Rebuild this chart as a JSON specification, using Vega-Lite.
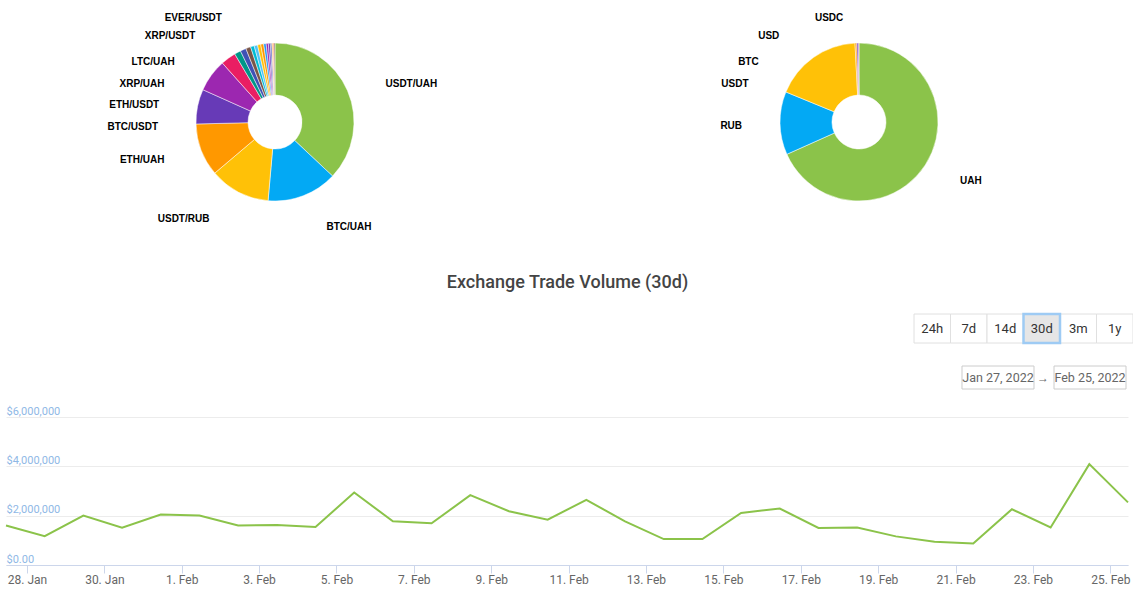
{
  "$schema": "https://vega.github.io/schema/vega-lite/v6.json",
  "background": "white",
  "padding": {"left": 2, "top": 0, "right": 0, "bottom": 0},
  "config": {
    "view": {"stroke": null},
    "font": "Roboto",
    "axis": {"labelFont": "Roboto"},
    "title": {"font": "Roboto"}
  },
  "spacing": 29,
  "vconcat": [
    {
      "bounds": "flush",
      "spacing": 45,
      "hconcat": [
        {
          "width": 538,
          "height": 244,
          "data": {
            "values": [
              {"pair": "USDT/UAH", "share": 37.0},
              {"pair": "BTC/UAH", "share": 14.4},
              {"pair": "USDT/RUB", "share": 12.4},
              {"pair": "ETH/UAH", "share": 10.8},
              {"pair": "BTC/USDT", "share": 7.1},
              {"pair": "ETH/USDT", "share": 6.7},
              {"pair": "XRP/UAH", "share": 3.1},
              {"pair": "LTC/UAH", "share": 1.3},
              {"pair": "XRP/USDT", "share": 1.2},
              {"pair": "EVER/USDT", "share": 1.0},
              {"pair": "TRX/UAH", "share": 0.75},
              {"pair": "DOGE/UAH", "share": 0.7},
              {"pair": "SOL/UAH", "share": 0.65},
              {"pair": "ADA/UAH", "share": 0.6},
              {"pair": "BNB/USDT", "share": 0.5},
              {"pair": "DOT/UAH", "share": 0.45},
              {"pair": "LINK/UAH", "share": 0.4},
              {"pair": "DOGE/USDT", "share": 0.3},
              {"pair": "SHIB/UAH", "share": 0.25},
              {"pair": "MATIC/UAH", "share": 0.2},
              {"pair": "XLM/UAH", "share": 0.2}
            ]
          },
          "transform": [{"window": [{"op": "row_number", "as": "i"}]}],
          "encoding": {
            "order": {"field": "i", "type": "quantitative"},
            "detail": {"field": "pair", "type": "nominal"}
          },
          "layer": [
            {
              "mark": {"type": "arc", "outerRadius": 79, "innerRadius": 27, "stroke": "#ffffff", "strokeWidth": 0.5},
              "encoding": {
                "theta": {"field": "share", "type": "quantitative", "stack": "normalize"},
                "color": {
                  "field": "pair",
                  "type": "nominal",
                  "legend": null,
                  "scale": {
                    "domain": ["USDT/UAH", "BTC/UAH", "USDT/RUB", "ETH/UAH", "BTC/USDT", "ETH/USDT", "XRP/UAH", "LTC/UAH", "XRP/USDT", "EVER/USDT", "TRX/UAH", "DOGE/UAH", "SOL/UAH", "ADA/UAH", "BNB/USDT", "DOT/UAH", "LINK/UAH", "DOGE/USDT", "SHIB/UAH", "MATIC/UAH", "XLM/UAH"],
                    "range": ["#8bc34a", "#03a9f4", "#ffc107", "#ff9800", "#673ab7", "#9c27b0", "#e91e63", "#009688", "#3f51b5", "#795548", "#00bcd4", "#4fc3f7", "#ffc107", "#ff9800", "#2196f3", "#9c27b0", "#673ab7", "#3f51b5", "#ffb74d", "#ff5722", "#795548"]
                  }
                }
              }
            },
            {
              "mark": {"type": "text", "radius": 117, "align": "left", "baseline": "middle", "font": "Liberation Sans", "fontSize": 10, "fontWeight": "bold", "color": "#000000"},
              "encoding": {
                "theta": {
                  "field": "share", "type": "quantitative", "stack": "normalize",
                  "scale": {"zero": false, "nice": false,
                    "domain": [0, 0.185, 0.442, 0.576, 0.692, 0.7815, 0.8505, 0.8995, 0.9215, 0.934, 0.945, 1],
                    "range": [0, 1.2357, 2.6861, 3.7367, 4.3808, 4.6705, 4.8572, 5.0475, 5.2534, 5.5344, 5.8119, 6.2832]}
                },
                "text": {"condition": {"test": "indexof(['USDT/UAH','BTC/UAH'], datum.pair) >= 0", "field": "pair"}, "value": ""}
              }
            },
            {
              "mark": {"type": "text", "radius": 117, "align": "right", "baseline": "middle", "font": "Liberation Sans", "fontSize": 10, "fontWeight": "bold", "color": "#000000"},
              "encoding": {
                "theta": {
                  "field": "share", "type": "quantitative", "stack": "normalize",
                  "scale": {"zero": false, "nice": false,
                    "domain": [0, 0.185, 0.442, 0.576, 0.692, 0.7815, 0.8505, 0.8995, 0.9215, 0.934, 0.945, 1],
                    "range": [0, 1.2357, 2.6861, 3.7367, 4.3808, 4.6705, 4.8572, 5.0475, 5.2534, 5.5344, 5.8119, 6.2832]}
                },
                "text": {"condition": {"test": "indexof(['USDT/RUB','ETH/UAH','BTC/USDT','ETH/USDT','XRP/UAH','LTC/UAH','XRP/USDT','EVER/USDT'], datum.pair) >= 0", "field": "pair"}, "value": ""}
              }
            }
          ],
          "resolve": {"scale": {"theta": "independent"}}
        },
        {
          "width": 540,
          "height": 244,
          "data": {
            "values": [
              {"pair": "UAH", "share": 68.3},
              {"pair": "RUB", "share": 12.9},
              {"pair": "USDT", "share": 18.0},
              {"pair": "BTC", "share": 0.35},
              {"pair": "USD", "share": 0.3},
              {"pair": "USDC", "share": 0.15}
            ]
          },
          "transform": [{"window": [{"op": "row_number", "as": "i"}]}],
          "encoding": {
            "order": {"field": "i", "type": "quantitative"},
            "detail": {"field": "pair", "type": "nominal"}
          },
          "layer": [
            {
              "mark": {"type": "arc", "outerRadius": 79, "innerRadius": 27, "stroke": "#ffffff", "strokeWidth": 0.5},
              "encoding": {
                "theta": {"field": "share", "type": "quantitative", "stack": "normalize"},
                "color": {
                  "field": "pair",
                  "type": "nominal",
                  "legend": null,
                  "scale": {
                    "domain": ["UAH", "RUB", "USDT", "BTC", "USD", "USDC"],
                    "range": ["#8bc34a", "#03a9f4", "#ffc107", "#ff9800", "#673ab7", "#9c27b0"]
                  }
                }
              }
            },
            {
              "mark": {"type": "text", "radius": 117, "align": "left", "baseline": "middle", "font": "Liberation Sans", "fontSize": 10, "fontWeight": "bold", "color": "#000000"},
              "encoding": {
                "theta": {
                  "field": "share", "type": "quantitative", "stack": "normalize",
                  "scale": {"zero": false, "nice": false,
                    "domain": [0, 0.3415, 0.7475, 0.902, 0.99375, 0.997, 0.99925, 1],
                    "range": [0, 2.0979, 4.6793, 5.0475, 5.2534, 5.5344, 6.1488, 6.2832]}
                },
                "text": {"condition": {"test": "datum.pair === 'UAH'", "field": "pair"}, "value": ""}
              }
            },
            {
              "mark": {"type": "text", "radius": 117, "align": "right", "baseline": "middle", "font": "Liberation Sans", "fontSize": 10, "fontWeight": "bold", "color": "#000000"},
              "encoding": {
                "theta": {
                  "field": "share", "type": "quantitative", "stack": "normalize",
                  "scale": {"zero": false, "nice": false,
                    "domain": [0, 0.3415, 0.7475, 0.902, 0.99375, 0.997, 0.99925, 1],
                    "range": [0, 2.0979, 4.6793, 5.0475, 5.2534, 5.5344, 6.1488, 6.2832]}
                },
                "text": {"condition": {"test": "indexof(['RUB','USDT','BTC','USD'], datum.pair) >= 0", "field": "pair"}, "value": ""}
              }
            },
            {
              "mark": {"type": "text", "radius": 117, "align": "right", "baseline": "middle", "dy": 12, "font": "Liberation Sans", "fontSize": 10, "fontWeight": "bold", "color": "#000000"},
              "encoding": {
                "theta": {
                  "field": "share", "type": "quantitative", "stack": "normalize",
                  "scale": {"zero": false, "nice": false,
                    "domain": [0, 0.3415, 0.7475, 0.902, 0.99375, 0.997, 0.99925, 1],
                    "range": [0, 2.0979, 4.6793, 5.0475, 5.2534, 5.5344, 6.1488, 6.2832]}
                },
                "text": {"condition": {"test": "datum.pair === 'USDC'", "field": "pair"}, "value": ""}
              }
            }
          ],
          "resolve": {"scale": {"theta": "independent"}}
        }
      ]
    },
    {
      "spacing": 15,
      "vconcat": [
        {
          "bounds": "flush",
          "spacing": 23,
          "vconcat": [
            {
              "width": 1127,
              "height": 29,
              "title": {
                "text": "Exchange Trade Volume (30d)",
                "frame": "group",
                "anchor": "middle",
                "baseline": "alphabetic",
                "offset": 7,
                "dx": -2,
                "fontSize": 18,
                "fontWeight": 500,
                "color": "#444444"
              },
              "data": {
                "values": [
                  {"range": "24h"},
                  {"range": "7d"},
                  {"range": "14d"},
                  {"range": "30d"},
                  {"range": "3m"},
                  {"range": "1y"}
                ]
              },
              "encoding": {
                "x": {
                  "field": "range",
                  "type": "nominal",
                  "sort": null,
                  "axis": null,
                  "scale": {"range": [908, 1127], "paddingInner": 0, "paddingOuter": 0}
                }
              },
              "layer": [
                {"mark": {"type": "bar", "fill": "#ffffff", "stroke": "#e0e0e0", "strokeWidth": 1}},
                {
                  "transform": [{"filter": "datum.range === '30d'"}],
                  "mark": {"type": "bar", "fill": "#e6e6e6", "stroke": "#9ecbf4", "strokeWidth": 2.5}
                },
                {
                  "mark": {"type": "text", "fontSize": 13, "color": "#333333"},
                  "encoding": {"text": {"field": "range"}}
                }
              ]
            },
            {
              "width": 1127,
              "height": 23,
              "data": {
                "values": [
                  {"label": "Jan 27, 2022"},
                  {"label": "Feb 25, 2022"}
                ]
              },
              "encoding": {
                "x": {
                  "field": "label",
                  "type": "nominal",
                  "sort": null,
                  "axis": null,
                  "scale": {"range": [956, 1120], "paddingInner": 0.2174, "paddingOuter": 0}
                }
              },
              "layer": [
                {"mark": {"type": "bar", "fill": "#ffffff", "stroke": "#cccccc", "strokeWidth": 1}},
                {
                  "mark": {"type": "text", "fontSize": 12.5, "color": "#666666"},
                  "encoding": {"text": {"field": "label"}}
                },
                {
                  "transform": [{"filter": "datum.label === 'Feb 25, 2022'"}],
                  "mark": {"type": "text", "fontSize": 12, "color": "#666666", "dx": -11},
                  "encoding": {
                    "x": {"field": "label", "type": "nominal", "sort": null, "bandPosition": 0, "axis": null},
                    "text": {"value": "→"}
                  }
                }
              ]
            }
          ]
        },
        {
          "width": 1122,
          "height": 148,
          "data": {
            "values": [
              {"date": "2022-01-27T11:00:00", "volume": 1600000},
              {"date": "2022-01-28T11:00:00", "volume": 1170000},
              {"date": "2022-01-29T11:00:00", "volume": 2000000},
              {"date": "2022-01-30T11:00:00", "volume": 1510000},
              {"date": "2022-01-31T11:00:00", "volume": 2050000},
              {"date": "2022-02-01T11:00:00", "volume": 2010000},
              {"date": "2022-02-02T11:00:00", "volume": 1600000},
              {"date": "2022-02-03T11:00:00", "volume": 1620000},
              {"date": "2022-02-04T11:00:00", "volume": 1540000},
              {"date": "2022-02-05T11:00:00", "volume": 2940000},
              {"date": "2022-02-06T11:00:00", "volume": 1770000},
              {"date": "2022-02-07T11:00:00", "volume": 1690000},
              {"date": "2022-02-08T11:00:00", "volume": 2830000},
              {"date": "2022-02-09T11:00:00", "volume": 2180000},
              {"date": "2022-02-10T11:00:00", "volume": 1840000},
              {"date": "2022-02-11T11:00:00", "volume": 2640000},
              {"date": "2022-02-12T11:00:00", "volume": 1770000},
              {"date": "2022-02-13T11:00:00", "volume": 1050000},
              {"date": "2022-02-14T11:00:00", "volume": 1050000},
              {"date": "2022-02-15T11:00:00", "volume": 2110000},
              {"date": "2022-02-16T11:00:00", "volume": 2290000},
              {"date": "2022-02-17T11:00:00", "volume": 1500000},
              {"date": "2022-02-18T11:00:00", "volume": 1520000},
              {"date": "2022-02-19T11:00:00", "volume": 1160000},
              {"date": "2022-02-20T11:00:00", "volume": 940000},
              {"date": "2022-02-21T11:00:00", "volume": 870000},
              {"date": "2022-02-22T11:00:00", "volume": 2260000},
              {"date": "2022-02-23T11:00:00", "volume": 1520000},
              {"date": "2022-02-24T11:00:00", "volume": 4090000},
              {"date": "2022-02-25T11:00:00", "volume": 2540000}
            ]
          },
          "mark": {"type": "line", "color": "#8bc34a", "strokeWidth": 2},
          "encoding": {
            "x": {
              "field": "date",
              "type": "temporal",
              "scale": {"nice": false, "padding": 0},
              "axis": {
                "title": null,
                "grid": false,
                "format": "%-d. %b",
                "values": [
                  {"year": 2022, "month": 1, "date": 28},
                  {"year": 2022, "month": 1, "date": 30},
                  {"year": 2022, "month": 2, "date": 1},
                  {"year": 2022, "month": 2, "date": 3},
                  {"year": 2022, "month": 2, "date": 5},
                  {"year": 2022, "month": 2, "date": 7},
                  {"year": 2022, "month": 2, "date": 9},
                  {"year": 2022, "month": 2, "date": 11},
                  {"year": 2022, "month": 2, "date": 13},
                  {"year": 2022, "month": 2, "date": 15},
                  {"year": 2022, "month": 2, "date": 17},
                  {"year": 2022, "month": 2, "date": 19},
                  {"year": 2022, "month": 2, "date": 21},
                  {"year": 2022, "month": 2, "date": 23},
                  {"year": 2022, "month": 2, "date": 25}
                ],
                "domainColor": "#ccd6eb",
                "tickColor": "#ccd6eb",
                "tickSize": 8,
                "labelPadding": 1,
                "labelColor": "#666666",
                "labelFontSize": 12,
                "labelFlush": false,
                "labelOverlap": false
              }
            },
            "y": {
              "field": "volume",
              "type": "quantitative",
              "scale": {"domain": [0, 6000000], "nice": false},
              "axis": {
                "title": null,
                "values": [0, 2000000, 4000000, 6000000],
                "labelExpr": "datum.value === 0 ? '$0.00' : format(datum.value, '$,.0f')",
                "domain": false,
                "ticks": false,
                "tickSize": 0,
                "grid": true,
                "gridColor": "#ececec",
                "labelAlign": "left",
                "labelBaseline": "bottom",
                "labelPadding": 0,
                "labelOffset": -1,
                "labelColor": "#8fb8e6",
                "labelFontSize": 11,
                "labelFlush": false
              }
            }
          }
        }
      ]
    }
  ]
}
